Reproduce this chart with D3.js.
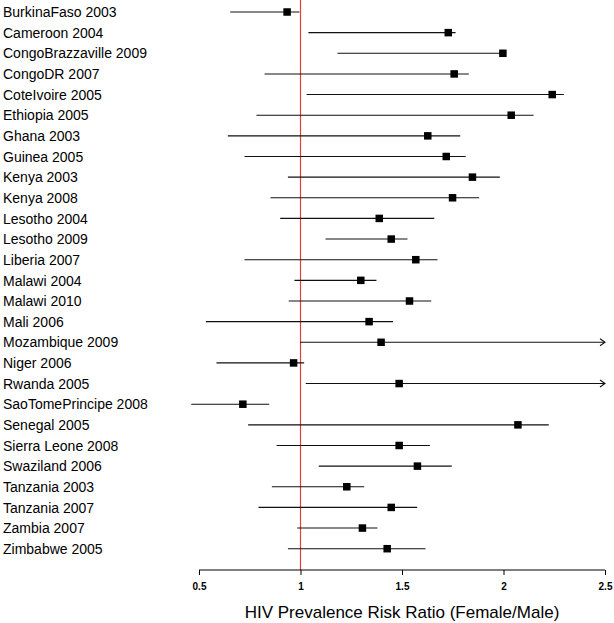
<!DOCTYPE html>
<html><head><meta charset="utf-8">
<script src="https://cdn.jsdelivr.net/npm/d3@7"></script>
<style>body{margin:0;background:#fff}svg{display:block}</style>
</head><body>
<script>
const labels = ["BurkinaFaso 2003","Cameroon 2004","CongoBrazzaville 2009","CongoDR 2007","CoteIvoire 2005","Ethiopia 2005","Ghana 2003","Guinea 2005","Kenya 2003","Kenya 2008","Lesotho 2004","Lesotho 2009","Liberia 2007","Malawi 2004","Malawi 2010","Mali 2006","Mozambique 2009","Niger 2006","Rwanda 2005","SaoTomePrincipe 2008","Senegal 2005","Sierra Leone 2008","Swaziland 2006","Tanzania 2003","Tanzania 2007","Zambia 2007","Zimbabwe 2005"];
const estimate = [0.934,1.728,1.997,1.757,2.240,2.038,1.627,1.718,1.847,1.749,1.388,1.447,1.568,1.297,1.537,1.338,1.397,0.966,1.486,0.716,2.071,1.486,1.576,1.228,1.447,1.305,1.427];
const lower = [0.654,1.039,1.182,0.823,1.030,0.783,0.642,0.724,0.938,0.852,0.900,1.123,0.724,0.970,0.942,0.534,0.998,0.586,1.026,0.462,0.742,0.882,1.090,0.859,0.793,0.984,0.938];
const upper = [0.995,1.764,2.005,1.829,2.297,2.148,1.787,1.814,1.982,1.880,1.659,1.527,1.675,1.374,1.644,1.456,2.900,1.018,2.900,0.846,2.223,1.637,1.745,1.314,1.575,1.379,1.616];
const ticks = [0.5,1,1.5,2,2.5];
const refValue = 1;
const xTitle = "HIV Prevalence Risk Ratio (Female/Male)";

const W = 614, H = 623;
const svg = d3.select("body").append("svg").attr("width", W).attr("height", H);
const x = d3.scaleLinear().domain([0.5, 2.5]).range([199, 605]);
const y = d3.scalePoint().domain(labels).range([12, 548.7]);
const xmax = x.domain()[1];

// reference line
svg.append("line").attr("x1", x(refValue)).attr("x2", x(refValue))
  .attr("y1", 0).attr("y2", 570).attr("stroke", "#e0403a").attr("stroke-width", 1.2);

// CI lines
const rows = labels.map((l, i) => ({l, e: estimate[i], lo: lower[i], hi: upper[i]}));
const g = svg.append("g");
g.selectAll("line.ci").data(rows).join("line").attr("class", "ci")
  .attr("x1", d => x(d.lo)).attr("x2", d => x(Math.min(d.hi, xmax)))
  .attr("y1", d => y(d.l)).attr("y2", d => y(d.l))
  .attr("stroke", "#111").attr("stroke-width", 1.1);

// arrows for truncated CIs
g.selectAll("path.arr").data(rows.filter(d => d.hi > xmax)).join("path").attr("class", "arr")
  .attr("d", d => { const ax = x(xmax), ay = y(d.l); return `M${ax-5},${ay-3.5}L${ax},${ay}L${ax-5},${ay+3.5}`; })
  .attr("fill", "none").attr("stroke", "#111").attr("stroke-width", 1.1);

// squares
const s = 7.5;
g.selectAll("rect.pt").data(rows).join("rect").attr("class", "pt")
  .attr("x", d => x(d.e) - s/2).attr("y", d => y(d.l) - s/2)
  .attr("width", s).attr("height", s).attr("fill", "#000");

// labels
svg.append("g").selectAll("text").data(labels).join("text")
  .attr("x", 3).attr("y", d => y(d)).attr("dy", "0.37em")
  .attr("font-family", "Liberation Sans, Arial, sans-serif").attr("font-size", 14)
  .attr("fill", "#000").text(d => d);

// axis
const axis = d3.axisBottom(x).tickValues(ticks).tickSize(5).tickPadding(8).tickFormat(d3.format("~g"));
const ag = svg.append("g").attr("transform", "translate(0,570)").call(axis);
ag.select(".domain").attr("stroke", "#000").attr("d", `M${x(0.5)},0H${x(2.5)}`);
ag.selectAll(".tick line").attr("stroke", "#000");
ag.selectAll(".tick text").attr("font-family", "Liberation Sans, Arial, sans-serif")
  .attr("font-size", 10).attr("font-weight", "bold").attr("fill", "#000");

svg.append("text").attr("x", (x(0.5) + x(2.5)) / 2).attr("y", 618)
  .attr("text-anchor", "middle").attr("font-family", "Liberation Sans, Arial, sans-serif")
  .attr("font-size", 17).attr("fill", "#000").text(xTitle);
</script>
</body></html>
